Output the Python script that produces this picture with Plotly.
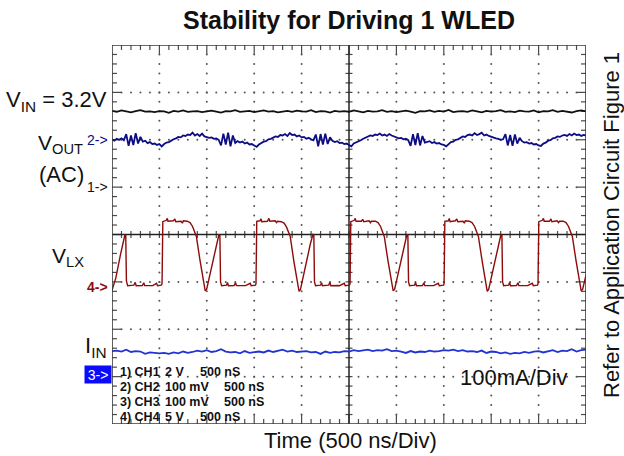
import numpy as np
import plotly.graph_objects as go

# ---------------------------------------------------------------------------
# Scope capture: boost converter driving one WLED, 500 ns/div, 10 x 8 divisions
# ---------------------------------------------------------------------------
NS_PER_DIV = 500.0
N_XDIV, N_YDIV = 10, 8

# Channel set-up: (volts / units per div, ground-marker position in divisions)
CH1_SCALE, CH1_POS = 2.0, 1.0      # V_IN, volts
CH2_SCALE, CH2_POS = 100.0, 2.0    # V_OUT (AC), millivolts
CH3_SCALE, CH3_POS = 100.0, -3.0   # I_IN, milliamps
CH4_SCALE, CH4_POS = 5.0, -1.1     # V_LX, volts

# CH1: input voltage, sampled every 50 ns (V)
vin_step = 50.0
vin_v = [3.22, 3.18, 3.24, 3.20, 3.16, 3.21, 3.25, 3.19, 3.20, 3.17,
         3.21, 3.20, 3.14, 3.22, 3.19, 3.24, 3.18, 3.20, 3.21, 3.17,
         3.20, 3.23, 3.19, 3.15, 3.21, 3.20, 3.25, 3.18, 3.20, 3.22,
         3.17, 3.20, 3.24, 3.19, 3.21, 3.16, 3.20, 3.22, 3.18, 3.23,
         3.20, 3.19, 3.25, 3.17, 3.21, 3.20, 3.15, 3.22, 3.19, 3.21,
         3.18, 3.24, 3.20, 3.16, 3.22, 3.19, 3.20, 3.25, 3.18, 3.21,
         3.17, 3.20, 3.23, 3.19, 3.14, 3.21, 3.20, 3.24, 3.18, 3.22,
         3.19, 3.26, 3.17, 3.20, 3.21, 3.18, 3.24, 3.20, 3.16, 3.22,
         3.19, 3.21, 3.25, 3.18, 3.20, 3.17, 3.23, 3.20, 3.19, 3.24,
         3.16, 3.21, 3.20, 3.25, 3.18, 3.22, 3.19, 3.15, 3.21, 3.24,
         3.20]

# CH2: output ripple (AC coupled), sampled every 25 ns (mV)
vout_step = 25.0
vout_mv = [1, -2, 2, 0, 3, -1, 12, -13, 9, -11, 14, -8, 6,
           -4, -2, -7, -5, -9, -8, -11, -9, -14,
           -9, -6, -5, -1, 1, 3, 6, 5, 9, 8, 11, 10, 15, 9, 12, 8, 13, 7,
           6, 4, 5, 2, 3, 0, -12, 13, -10, 15, -14, 9, -7,
           -3, -6, -4, -8, -6, -10, -9, -12, -15,
           -10, -7, -4, -3, 1, 2, 5, 7, 6, 10, 9, 12, 8, 14, 10, 11, 7, 9,
           5, 6, 2, 4, 1, -1, 11, -14, 12, -10, 13, -9, 5,
           -2, -5, -3, -7, -6, -9, -8, -11, -14,
           -8, -6, -3, -1, 2, 4, 6, 9, 8, 11, 10, 13, 9, 11, 8, 12, 9, 7,
           5, 3, 4, 1, 2, -1, -13, 12, -11, 14, -12, 8, -6,
           -4, -3, -7, -5, -8, -7, -10, -11, -14,
           -9, -5, -4, 0, 1, 4, 7, 6, 10, 11, 9, 14, 10, 12, 15, 9, 11, 8,
           6, 4, 3, 2, 0, 1, 12, -12, 10, -13, 11, -8, 4,
           -3, -6, -5, -8, -7, -10, -9, -12, -13,
           -8, -6, -2, -1, 3, 4, 7, 6, 9, 10, 8, 12, 9, 13, 10, 11, 8, 10,
           9]

# CH3: input current, sampled every 50 ns (mA)
iin_step = 50.0
iin_ma = [54, 55, 53, 57, 52, 54, 53, 48, 51, 50,
          49, 50, 48, 51, 49, 53, 50, 52, 55, 53,
          56, 52, 54, 58, 53, 51, 52, 49, 54, 50,
          52, 53, 51, 55, 52, 54, 57, 53, 55, 52,
          53, 54, 51, 52, 48, 53, 50, 52, 51, 54,
          53, 56, 54, 55, 57, 54, 56, 55, 58, 54,
          55, 53, 50, 54, 51, 53, 52, 55, 53, 54,
          56, 55, 57, 54, 56, 53, 54, 52, 55, 50,
          53, 52, 49, 51, 48, 50, 49, 52, 50, 53,
          54, 51, 53, 56, 52, 55, 54, 58, 53, 56,
          57]

# CH4: switch node LX, captured vertices (ns, V)
vlx_t = [0, 40, 90, 125, 137, 145, 152, 165, 230, 245, 255, 320, 335, 345,
         410, 430, 470, 480, 520,
         528, 536, 573, 583, 590, 648, 663, 673, 728, 743, 753, 793, 823, 850,
         873, 890, 928, 963, 983, 998, 1048, 1103, 1128, 1138, 1145, 1156,
         1208, 1218, 1228, 1288, 1303, 1313, 1388, 1408, 1458, 1468, 1513,
         1519, 1527, 1560, 1572, 1580, 1640, 1655, 1665, 1720, 1735, 1745,
         1785, 1815, 1840, 1864, 1880, 1918, 1953, 1973, 1988, 2038, 2092,
         2119, 2129, 2136, 2147, 2200, 2210, 2220, 2285, 2298, 2308, 2380,
         2400, 2450, 2460, 2505,
         2511, 2519, 2555, 2566, 2574, 2630, 2645, 2655, 2712, 2726, 2736,
         2778, 2806, 2833, 2856, 2872, 2910, 2946, 2966, 2981, 3031, 3085,
         3111, 3121, 3128, 3139, 3192, 3202, 3212, 3275, 3290, 3300, 3372,
         3392, 3442, 3452, 3497,
         3503, 3511, 3548, 3558, 3566, 3622, 3637, 3647, 3702, 3717, 3727,
         3768, 3798, 3825, 3848, 3865, 3903, 3938, 3958, 3973, 4023, 4077,
         4103, 4113, 4120, 4131, 4184, 4194, 4204, 4267, 4282, 4292, 4364,
         4384, 4434, 4444, 4488,
         4494, 4502, 4540, 4551, 4559, 4615, 4630, 4640, 4695, 4710, 4720,
         4760, 4789, 4816, 4839, 4856, 4894, 4929, 4949, 4964, 5000]
vlx_v = [-0.40, 0.9, 3.4, 5.1, 5.5, 5.4, 0.6, 0.1, 0.15, 0.45, 0.1, 0.12, 0.4, 0.1,
         0.15, 0.1, 0.35, 0.1, 0.15,
         0.3, 6.85, 7.0, 7.2, 6.9, 6.95, 7.15, 6.85, 6.9, 6.7, 6.95, 6.9, 6.75, 6.35,
         5.8, 5.3, 2.8, 0.5, -0.45, -0.3, 2.0, 4.5, 5.5, 5.4, 0.5, 0.1,
         0.15, 0.45, 0.1, 0.12, 0.4, 0.1, 0.15, 0.1, 0.35, 0.1, 0.15,
         0.3, 6.9, 6.95, 7.15, 6.85, 6.9, 7.2, 6.9, 6.95, 6.75, 6.9,
         6.85, 6.7, 6.3, 5.75, 5.3, 2.7, 0.4, -0.5, -0.3, 2.1, 4.5,
         5.5, 5.4, 0.5, 0.1, 0.15, 0.4, 0.1, 0.15, 0.45, 0.1, 0.12,
         0.1, 0.35, 0.1, 0.15,
         0.3, 6.85, 7.0, 7.2, 6.9, 6.9, 7.1, 6.85, 6.95, 6.75, 6.9,
         6.9, 6.75, 6.35, 5.8, 5.3, 2.8, 0.45, -0.45, -0.3, 2.0, 4.5,
         5.5, 5.4, 0.5, 0.1, 0.15, 0.45, 0.1, 0.12, 0.4, 0.1, 0.15,
         0.1, 0.35, 0.1, 0.15,
         0.3, 6.9, 6.95, 7.2, 6.85, 6.95, 7.15, 6.85, 6.9, 6.7, 6.95,
         6.9, 6.75, 6.35, 5.8, 5.3, 2.8, 0.5, -0.5, -0.3, 2.0, 4.5,
         5.5, 5.4, 0.5, 0.1, 0.15, 0.45, 0.1, 0.12, 0.4, 0.1, 0.15,
         0.1, 0.35, 0.1, 0.15,
         0.3, 6.85, 7.0, 7.2, 6.9, 6.9, 7.15, 6.85, 6.95, 6.75, 6.9,
         6.9, 6.75, 6.35, 5.8, 5.3, 2.8, 0.5, -0.45, -0.3, 1.2]

# Channel legend lines drawn on the screen
ch_rows = [("1) CH1", "2 V", "500 nS"),
           ("2) CH2", "100 mV", "500 nS"),
           ("3) CH3", "100 mV", "500 nS"),
           ("4) CH4", "5 V", "500 nS")]

# ---------------------------------------------------------------------------
# Page geometry (pixels)
W, H = 624, 456
L, R, T, B = 112, 38, 45, 32
PW, PH = W - L - R, H - T - B
X_MAX = NS_PER_DIV * N_XDIV
Y_HALF = N_YDIV / 2
NS_PER_PX = X_MAX / PW
DIV_PER_PX = N_YDIV / PH


def paper_x(px):
    return (px - L) / PW


def paper_y(py):
    return (H - B - py) / PH


FONT = "Liberation Sans, Arial, sans-serif"
GRID_C = "#4a4a4a"

fig = go.Figure()

# --- graticule: dotted division lines ---------------------------------------
dx, dy = [], []
for k in range(1, N_XDIV):
    if k == N_XDIV // 2:
        continue
    for j in range(1, N_YDIV * 5):
        yy = -Y_HALF + 0.2 * j
        if abs(yy) < 1e-9:
            continue
        dx.append(k * NS_PER_DIV)
        dy.append(yy)
for m in range(-int(Y_HALF) + 1, int(Y_HALF)):
    if m == 0:
        continue
    for j in range(1, N_XDIV * 5):
        xx = j * NS_PER_DIV / 5
        if abs(xx - X_MAX / 2) < 1e-9:
            continue
        dx.append(xx)
        dy.append(m)
fig.add_trace(go.Scatter(x=dx, y=dy, mode="markers",
                         marker=dict(size=2, color="#555555", line=dict(width=0)),
                         hoverinfo="skip", showlegend=False))

# --- graticule: border ticks and centre cross ticks ------------------------
tx, ty = [], []
for j in range(1, N_XDIV * 5):
    xx = j * NS_PER_DIV / 5
    ln = (9 if j % 5 == 0 else 5) * DIV_PER_PX
    tx += [xx, xx, None, xx, xx, None]
    ty += [Y_HALF, Y_HALF - ln, None, -Y_HALF, -Y_HALF + ln, None]
    c = 3.5 * DIV_PER_PX
    tx += [xx, xx, None]
    ty += [-c, c, None]
for j in range(1, N_YDIV * 5):
    yy = -Y_HALF + 0.2 * j
    ln = (9 if j % 5 == 0 else 5) * NS_PER_PX
    tx += [0, ln, None, X_MAX, X_MAX - ln, None]
    ty += [yy, yy, None, yy, yy, None]
    c = 3.5 * NS_PER_PX
    tx += [X_MAX / 2 - c, X_MAX / 2 + c, None]
    ty += [yy, yy, None]
fig.add_trace(go.Scatter(x=tx, y=ty, mode="lines",
                         line=dict(color=GRID_C, width=1.2),
                         hoverinfo="skip", showlegend=False))

# centre cross
fig.add_trace(go.Scatter(x=[0, X_MAX, None, X_MAX / 2, X_MAX / 2],
                         y=[0, 0, None, -Y_HALF, Y_HALF], mode="lines",
                         line=dict(color="#222222", width=1.5),
                         hoverinfo="skip", showlegend=False))

# --- waveforms ---------------------------------------------------------------
def to_div(vals, scale, pos):
    return [pos + v / scale for v in vals]


vlx_div = to_div(vlx_v, CH4_SCALE, CH4_POS)
fig.add_trace(go.Scatter(x=vlx_t, y=vlx_div, mode="lines",
                         line=dict(color="#8e0b0b", width=1.4),
                         hoverinfo="skip", showlegend=False))

iin_t = [i * iin_step for i in range(len(iin_ma))]
fig.add_trace(go.Scatter(x=iin_t, y=to_div(iin_ma, CH3_SCALE, CH3_POS),
                         mode="lines", line=dict(color="#2233d6", width=1.8),
                         hoverinfo="skip", showlegend=False))

vout_t = [i * vout_step for i in range(len(vout_mv))]
fig.add_trace(go.Scatter(x=vout_t, y=to_div(vout_mv, CH2_SCALE, CH2_POS),
                         mode="lines", line=dict(color="#0c0c84", width=1.8),
                         hoverinfo="skip", showlegend=False))

vin_t = [i * vin_step for i in range(len(vin_v))]
fig.add_trace(go.Scatter(x=vin_t, y=to_div(vin_v, CH1_SCALE, CH1_POS),
                         mode="lines", line=dict(color="#111111", width=1.8),
                         hoverinfo="skip", showlegend=False))

# --- text ---------------------------------------------------------------------
ann = []


def text(t, px, py, size, color="#111111", xa="center", ya="middle", **kw):
    ann.append(dict(text=t, x=paper_x(px), y=paper_y(py), xref="paper", yref="paper",
                    xanchor=xa, yanchor=ya, showarrow=False,
                    font=dict(family=FONT, size=size, color=color), **kw))


def ypx(div):
    return T + (Y_HALF - div) * PH / N_YDIV


text("<b>Stability for Driving 1 WLED</b>", L + PW / 2, 20, 25)
text("V<sub>IN</sub> = 3.2V", 109, 101, 22, xa="right")
text("V<sub>OUT</sub>", 85, 144, 21, xa="right")
text("(AC)", 61, 175, 22)
text("V<sub>LX</sub>", 86, 257, 21, xa="right")
text("I<sub>IN</sub>", 109, 347, 22, xa="right")
text("Time (500 ns/Div)", L + PW / 2 + 1, 440, 22)
text("100mA/Div", 458, 377, 22, xa="left")
text("Refer to Application Circuit Figure 1", 611, 225, 22, textangle=-90)

# channel ground markers
text("2->", 110, ypx(CH2_POS), 14, color="#0c0c84", xa="right")
text("1->", 110, ypx(CH1_POS), 14, color="#111111", xa="right")
text("<b>4-></b>", 110, ypx(CH4_POS), 14, color="#8e0b0b", xa="right")
text("3->", 112, ypx(CH3_POS) - 2, 14, color="#ffffff", xa="right",
     bgcolor="#0a0aff", width=24, height=15, borderpad=1)

# channel settings block
row_y = [371.7, 386.7, 401.7, 417.0]
for (c1, c2, c3), yy in zip(ch_rows, row_y):
    text("<b>%s</b>" % c1, 118, yy, 12.5, xa="left")
    text("<b>%s</b>" % c2, 163, yy, 12.5, xa="left")
    text("<b>%s</b>" % c3, 198 if len(c2) < 5 else 222, yy, 12.5, xa="left")

fig.update_layout(
    width=W, height=H,
    margin=dict(l=L, r=R, t=T, b=B, pad=0),
    paper_bgcolor="white", plot_bgcolor="white",
    showlegend=False,
    annotations=ann,
    xaxis=dict(range=[0, X_MAX], showgrid=False, zeroline=False,
               showticklabels=False, ticks="", showline=False, fixedrange=True),
    yaxis=dict(range=[-Y_HALF, Y_HALF], showgrid=False, zeroline=False,
               showticklabels=False, ticks="", showline=False, fixedrange=True),
    shapes=[dict(type="rect", xref="x", yref="y", x0=0, x1=X_MAX,
                 y0=-Y_HALF, y1=Y_HALF, line=dict(color="#3a3a3a", width=1.6))],
)

fig.write_html("out.html")
